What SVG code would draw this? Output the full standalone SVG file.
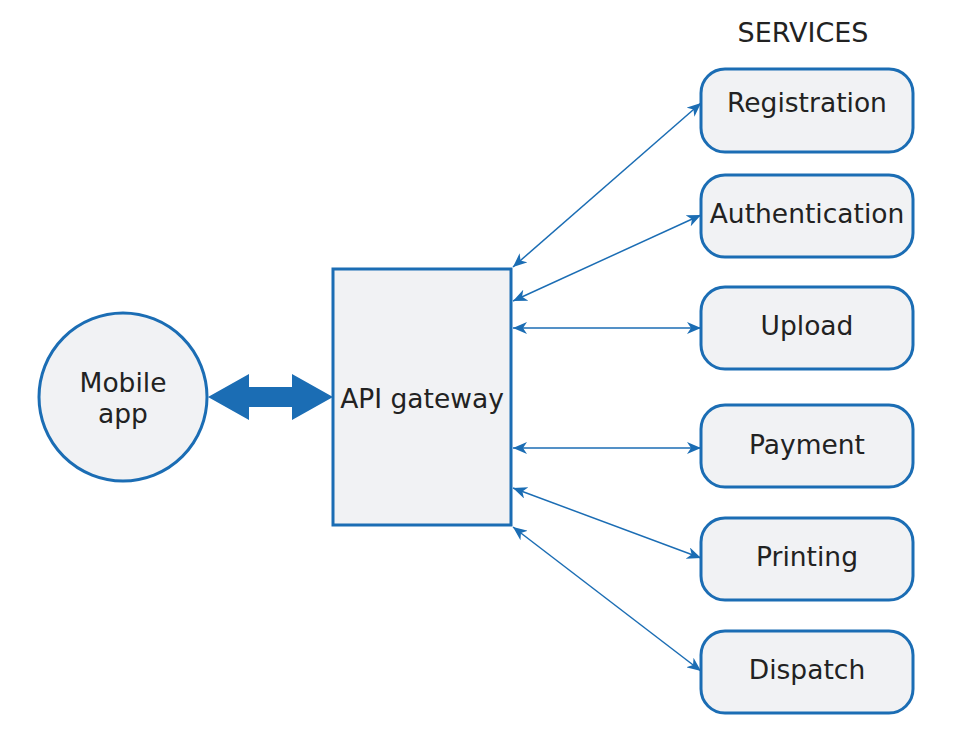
<svg xmlns="http://www.w3.org/2000/svg" width="970" height="742" viewBox="0 0 970 742">
<style>
.node{fill:#f1f2f4;stroke:#1b6db4;stroke-width:3}
.lbl{font-family:"DejaVu Sans",Verdana,sans-serif;font-size:26.5px;fill:#222;text-anchor:middle;dominant-baseline:central}
.con{stroke:#1b6db4;stroke-width:1.5;fill:none;marker-start:url(#ah);marker-end:url(#ah)}
</style>
<defs>
<marker id="ah" viewBox="0 0 14 12" refX="14" refY="6" markerWidth="14" markerHeight="12" markerUnits="userSpaceOnUse" orient="auto-start-reverse">
<path d="M0,0 L14,6 L0,12 L4,6 Z" fill="#1b6db4"/>
</marker>
</defs>
<rect width="970" height="742" fill="#fff"/>
<text class="lbl" x="803" y="32" style="font-size:27px">SERVICES</text>
<g id="connectors">
<path class="con" d="M513,267 L701,103"/>
<path class="con" d="M513,301 L701,215"/>
<path class="con" d="M513,328 L701,328"/>
<path class="con" d="M513,448 L701,448"/>
<path class="con" d="M513,488 L701,558"/>
<path class="con" d="M513,527 L701,671"/>
<path d="M208,397 L249,374 L249,387 L292,387 L292,374 L333,397 L292,420 L292,407 L249,407 L249,420 Z" fill="#1b6db4"/>
</g>
<g id="mobile-app">
<circle class="node" cx="123" cy="397" r="84"/>
<text class="lbl" x="123" y="382">Mobile</text>
<text class="lbl" x="123" y="413">app</text>
</g>
<g id="api-gateway">
<rect class="node" x="333" y="269" width="178" height="256"/>
<text class="lbl" x="422" y="398">API gateway</text>
</g>
<g id="registration">
<rect class="node" x="701" y="69" width="212" height="83" rx="24"/>
<text class="lbl" x="807" y="102">Registration</text>
</g>
<g id="authentication">
<rect class="node" x="701" y="175" width="212" height="82" rx="24"/>
<text class="lbl" x="807" y="213">Authentication</text>
</g>
<g id="upload">
<rect class="node" x="701" y="287" width="212" height="82" rx="24"/>
<text class="lbl" x="807" y="325">Upload</text>
</g>
<g id="payment">
<rect class="node" x="701" y="405" width="212" height="82" rx="24"/>
<text class="lbl" x="807" y="444">Payment</text>
</g>
<g id="printing">
<rect class="node" x="701" y="518" width="212" height="82" rx="24"/>
<text class="lbl" x="807" y="556">Printing</text>
</g>
<g id="dispatch">
<rect class="node" x="701" y="631" width="212" height="82" rx="24"/>
<text class="lbl" x="807" y="669">Dispatch</text>
</g>
</svg>
